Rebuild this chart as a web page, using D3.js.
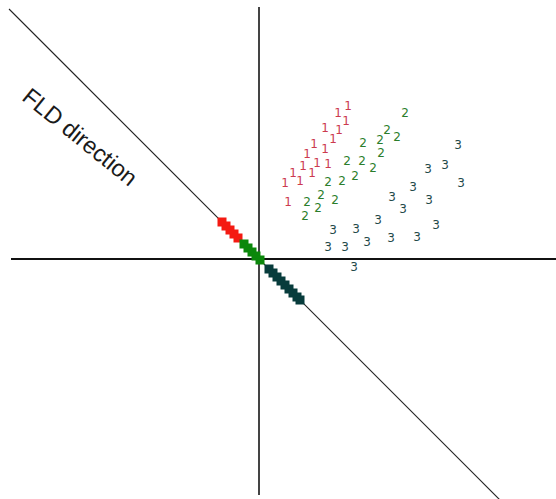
<!DOCTYPE html>
<html>
<head>
<meta charset="utf-8">
<script src="https://cdn.jsdelivr.net/npm/d3@7"></script>
<style>
  html, body { margin: 0; padding: 0; background: #fff; }
  svg { display: block; }
</style>
</head>
<body>
<svg id="chart" width="556" height="499"></svg>
<script>
// Class 1 samples (x, y)
const class1X = [8.9, 7.9, 8.7, 6.6, 8.0, 7.4, 5.5, 6.6, 4.8, 4.4, 5.8, 6.9, 3.4, 5.3, 4.1, 2.6, 2.9];
const class1Y = [15.3, 14.6, 13.8, 13.1, 12.9, 12.0, 11.5, 11.0, 10.5, 9.3, 9.6, 9.5, 8.6, 8.6, 7.8, 7.6, 5.7];
// Class 2 samples
const class2X = [14.6, 12.8, 13.8, 12.1, 10.4, 12.2, 8.8, 10.3, 11.4, 9.6, 8.3, 6.9, 6.2, 7.6, 4.8, 5.9, 4.6];
const class2Y = [14.6, 12.9, 12.2, 11.9, 11.6, 10.6, 9.8, 9.8, 9.1, 8.3, 7.8, 7.7, 6.4, 5.9, 5.7, 5.1, 4.3];
// Class 3 samples
const class3X = [19.9, 16.9, 18.6, 20.2, 15.4, 13.3, 17.0, 14.4, 11.9, 17.7, 7.4, 9.7, 10.8, 13.2, 15.8, 6.9, 8.6, 9.5];
const class3Y = [11.4, 9.0, 9.4, 7.6, 7.2, 6.2, 5.9, 5.0, 3.9, 3.4, 2.9, 3.0, 1.7, 2.1, 2.2, 1.2, 1.2, -0.8];
// Positions of each class projected onto the FLD axis (x-coordinate on the line y = -x)
const proj1 = [-3.7, -3.3, -2.9, -2.5, -2.1];
const proj2 = [-1.5, -1.1, -0.7, -0.3, 0.1];
const proj3 = [1.0, 1.4, 1.8, 2.2, 2.6, 3.0, 3.4, 3.8, 4.1];
// Extent of the FLD line (x-coordinates)
const fldExtent = [-25.0, 24.1];
const labels = ["1", "2", "3"];
const fldLabel = "FLD direction";

const svg = d3.select("#chart");

const x = d3.scaleLinear().domain([-24.8, 29.7]).range([11, 556]);
const y = d3.scaleLinear().domain([-23.6, 25.2]).range([495, 7]);

// Coordinate axes through the origin
svg.append("line")
  .attr("x1", x(-24.8)).attr("x2", x(29.7))
  .attr("y1", y(0)).attr("y2", y(0))
  .attr("stroke", "#111").attr("stroke-width", 2);
svg.append("line")
  .attr("x1", x(0)).attr("x2", x(0))
  .attr("y1", y(25.2)).attr("y2", y(-23.6))
  .attr("stroke", "#444").attr("stroke-width", 2);

// FLD direction line
svg.append("line")
  .attr("x1", x(fldExtent[0])).attr("y1", y(-fldExtent[0]))
  .attr("x2", x(fldExtent[1])).attr("y2", y(-fldExtent[1]))
  .attr("stroke", "#222").attr("stroke-width", 1.1);

// Samples drawn as class digits
const classes = [
  { xs: class1X, ys: class1Y, label: labels[0], color: "#cc3a4e", proj: proj1, sq: "#f41a12" },
  { xs: class2X, ys: class2Y, label: labels[1], color: "#2b7d2b", proj: proj2, sq: "#0b870b" },
  { xs: class3X, ys: class3Y, label: labels[2], color: "#1f4a4a", proj: proj3, sq: "#073c3c" }
];

classes.forEach(c => {
  svg.append("g").selectAll("text")
    .data(c.xs.map((v, i) => [v, c.ys[i]]))
    .join("text")
    .attr("x", d => x(d[0]))
    .attr("y", d => y(d[1]))
    .attr("text-anchor", "middle")
    .attr("dominant-baseline", "central")
    .attr("font-family", "DejaVu Sans, sans-serif")
    .attr("font-size", 12)
    .attr("fill", c.color)
    .text(c.label);
});

// Projected samples as squares along the FLD line
const sz = 9;
classes.forEach(c => {
  svg.append("g").selectAll("rect")
    .data(c.proj)
    .join("rect")
    .attr("x", d => x(d) - sz / 2)
    .attr("y", d => y(-d) - sz / 2)
    .attr("width", sz).attr("height", sz)
    .attr("fill", c.sq);
});

// Label along the FLD direction
svg.append("text")
  .attr("transform", "translate(80,137) rotate(39)")
  .attr("text-anchor", "middle")
  .attr("dominant-baseline", "central")
  .attr("font-family", "Liberation Sans, Arial, sans-serif")
  .attr("font-size", 23.5)
  .attr("fill", "#1a1a1a")
  .text(fldLabel);
</script>
</body>
</html>
